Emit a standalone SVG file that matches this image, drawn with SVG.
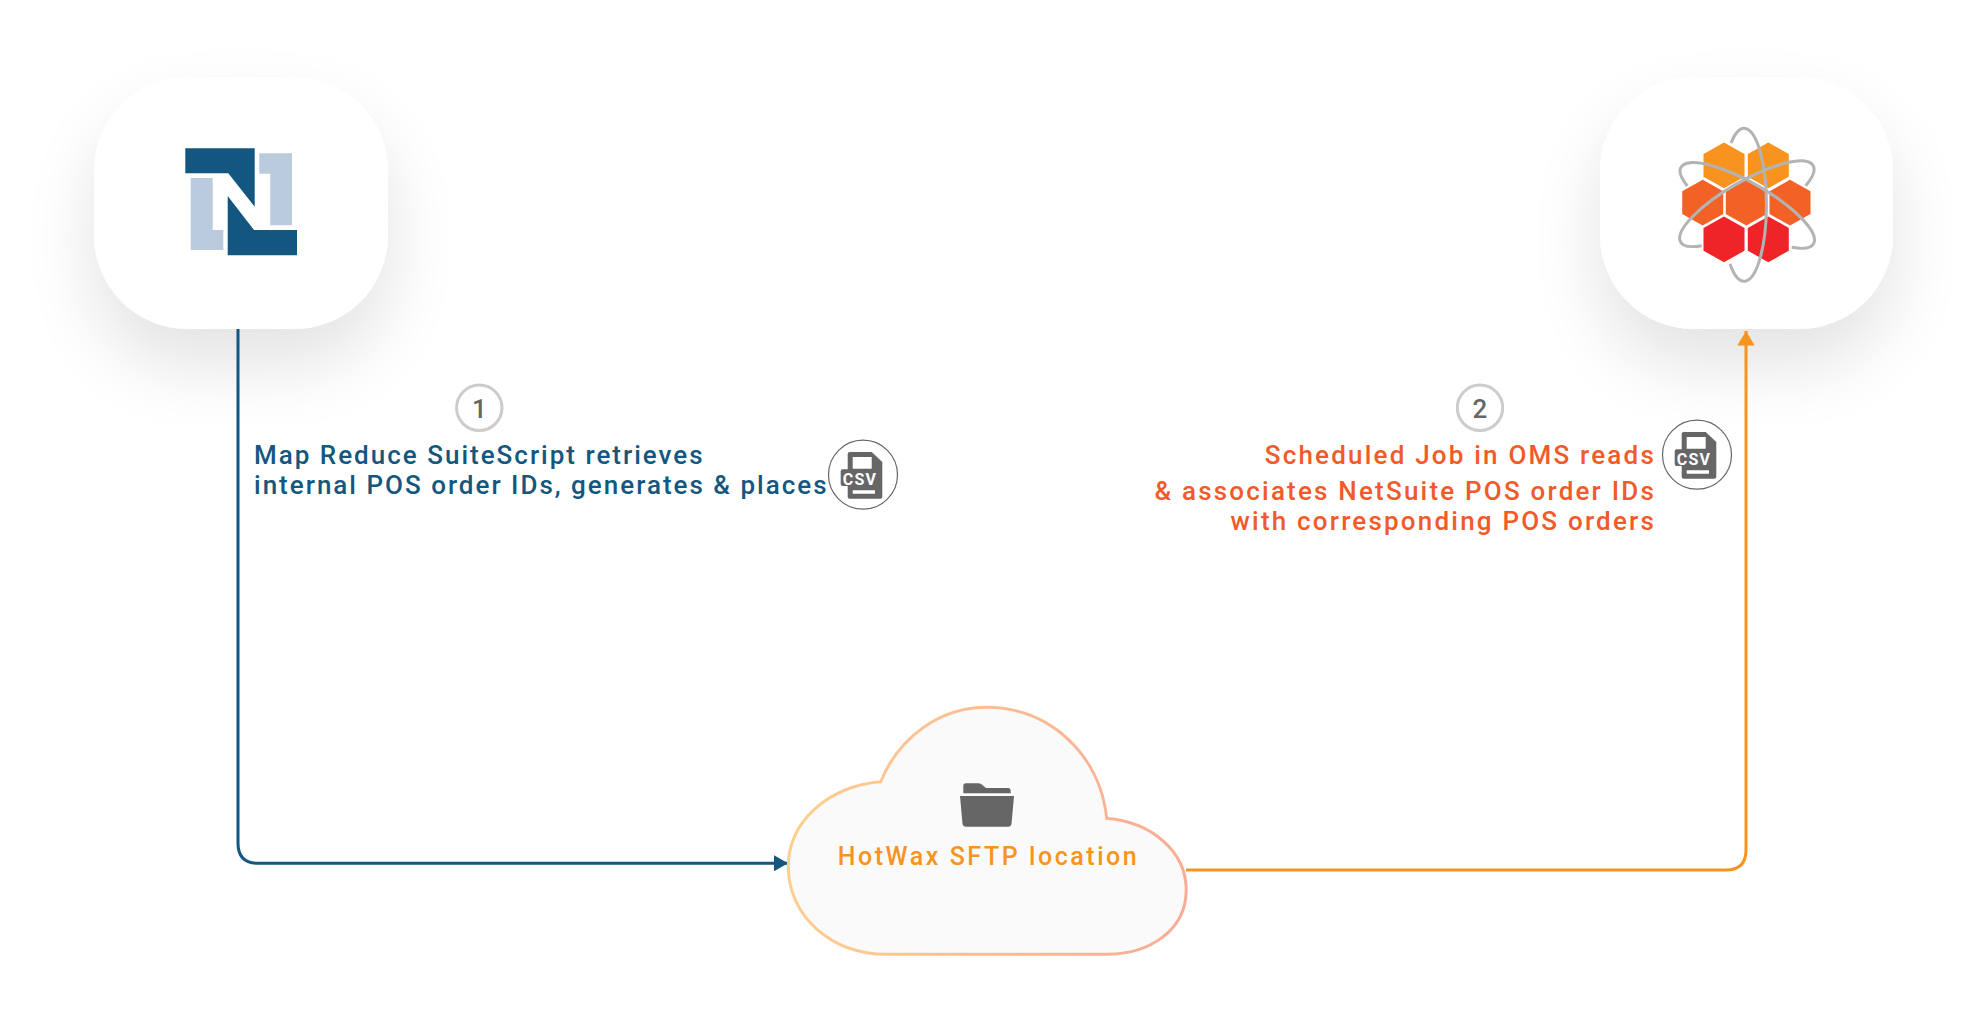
<svg xmlns="http://www.w3.org/2000/svg" xmlns:xlink="http://www.w3.org/1999/xlink" width="1987" height="1032" viewBox="0 0 1987 1032">
<style>
text{font-family:Roboto,"Liberation Sans",sans-serif}
.lbl{font-size:26px;letter-spacing:2px;font-weight:500}
.blue{fill:#135781}.red{fill:#F15A29;text-anchor:end;letter-spacing:2.2px}
.num{font-size:26px;fill:#666;text-anchor:middle;font-weight:500}
.numc{fill:#fff;stroke:#ccc;stroke-width:3}
.card{fill:#fff;filter:url(#sh)}
.csvt{font-size:16px;font-weight:700;fill:#fff;text-anchor:middle;letter-spacing:1.2px}
.orb{fill:none;stroke:#B3B3B3;stroke-width:3}
.conn{fill:none;stroke-width:3}
</style>
<defs>
<filter id="sh" x="-50%" y="-50%" width="200%" height="220%"><feGaussianBlur in="SourceAlpha" stdDeviation="36"/><feOffset dy="36"/><feComponentTransfer><feFuncA type="linear" slope="0.115"/></feComponentTransfer><feMerge><feMergeNode/><feMergeNode in="SourceGraphic"/></feMerge></filter>
<linearGradient id="cg" x1="0" x2="1" y1="0" y2="0"><stop offset="0" stop-color="#FFCE90"/><stop offset="1" stop-color="#F8AC96"/></linearGradient>
<marker id="ab" markerUnits="userSpaceOnUse" markerWidth="16" markerHeight="18" refX="14" refY="8" orient="auto"><path d="M0 0L14 8L0 16Z" fill="#135781"/></marker>
<marker id="ao" markerUnits="userSpaceOnUse" markerWidth="16" markerHeight="18" refX="14.5" refY="8.7" orient="auto"><path d="M0 0L14.500 8.700L0 17.400Z" fill="#F7941E"/></marker>
<g id="csvicon">
<path d="M-13.300 -22.700H8.700L19.300 -12.700V22Q19.300 24 17.300 24H-13.300Q-15.300 24 -15.300 22V-20.700Q-15.300 -22.700 -13.300 -22.700Z" fill="#666"/>
<path d="M-10.300 -17.700H8.700V-6H-10.300ZM-10.300 15.600H12V19H-10.300Z" fill="#fff"/>
<rect x="-22.300" y="-5.400" width="36.600" height="16.700" rx="2" fill="#666"/>
</g>
</defs>
<rect width="1987" height="1032" fill="#fff"/>
<g id="node-netsuite">
<rect class="card" x="94" y="77" width="294" height="252" rx="94"/>
<path d="M185.300 148.300H254.700V206.700L228.300 173.300H185.300Z" fill="#135781"/>
<path d="M227.700 196L254 230H297V255.300H227.700Z" fill="#135781"/>
<path d="M190.700 178H212.700V230H223.300V250H190.700Z" fill="#B9CBDC"/>
<path d="M259.300 153.300H292V225.300H270.300V173.700H259.300Z" fill="#B9CBDC"/>
</g>
<g id="node-hotwax">
<rect class="card" x="1600" y="77" width="293" height="252" rx="94"/>
<g id="hexes">
<path d="M1724 142.500L1744.500 154V176.800L1724 188.300L1703.500 176.800V154Z" fill="#F8931F"/>
<path d="M1768.300 142.500L1788.800 154V176.800L1768.300 188.300L1747.800 176.800V154Z" fill="#F8931F"/>
<path d="M1702.700 179.800L1723.200 191.300V214.100L1702.700 225.600L1682.200 214.100V191.300Z" fill="#F26227"/>
<path d="M1746.300 179.800L1766.800 191.300V214.100L1746.300 225.600L1725.800 214.100V191.300Z" fill="#F26227"/>
<path d="M1790 179.800L1810.500 191.300V214.100L1790 225.600L1769.500 214.100V191.300Z" fill="#F26227"/>
<path d="M1724 216.400L1744.500 227.900V250.700L1724 262.200L1703.500 250.700V227.900Z" fill="#EE2429"/>
<path d="M1768.300 216.400L1788.800 227.900V250.700L1768.300 262.200L1747.800 250.700V227.900Z" fill="#EE2429"/>
</g>
<path class="orb" d="M1731 143A22.300 76.500 0 1 1 1730 264"/>
<path class="orb" d="M1687.300 186A76.500 22.300 30 1 1 1791.700 247.300"/>
<path class="orb" d="M1805.700 185.700A76.500 22.300 -30 1 0 1701.700 245.700"/>
</g>
<g id="connectors">
<path class="conn" stroke="#135781" d="M238 329V843Q238 863.300 258 863.300H788" marker-end="url(#ab)"/>
<path class="conn" stroke="#F7941E" d="M1186 870H1726Q1746 870 1746 850V331" marker-end="url(#ao)"/>
</g>
<g id="node-cloud">
<path d="M880.700 781.700C899 737 940 707.300 986.700 707.300C1050 707.300 1100 755 1106.700 818.300C1150 822 1186.200 850 1186.200 890C1186.200 930 1150 954.300 1106.700 954.300H886.700C830 954.300 788.300 915 788.300 866.700C788.300 820 830 786 880.700 781.700Z" fill="#FAFAFA" stroke="url(#cg)" stroke-width="3"/>
<path d="M963.300 786Q963.300 783.300 966 783.300H978Q981 783.300 983 785.500L986 788H1008Q1010.700 788 1010.700 791V793.300H963.300Z" fill="#666"/>
<path d="M960 796H1014L1011.500 824Q1011 826.700 1008.500 826.700H965.500Q963 826.700 962.500 824Z" fill="#666"/>
<text x="988.500" y="864.800" text-anchor="middle" font-size="25" font-weight="500" letter-spacing="2.550" fill="#F7941E">HotWax SFTP location</text>
</g>
<g id="label-1">
<circle class="numc" cx="479.300" cy="407.800" r="22.700"/>
<text class="num" x="479.300" y="417.500">1</text>
<text class="lbl blue" x="254" y="464">Map Reduce SuiteScript retrieves</text>
<text class="lbl blue" x="254" y="494">internal POS order IDs, generates &amp; places</text>
</g>
<g id="csv-1">
<circle cx="863" cy="474.700" r="34.500" fill="#fff" stroke="#666" stroke-width="1.200"/>
<use xlink:href="#csvicon" href="#csvicon" x="863" y="474.700"/>
<text class="csvt" x="860" y="484.900">CSV</text>
</g>
<g id="label-2">
<circle class="numc" cx="1480" cy="407.800" r="22.700"/>
<text class="num" x="1480" y="417.500">2</text>
<text class="lbl red" x="1656" y="464">Scheduled Job in OMS reads</text>
<text class="lbl red" x="1656" y="500">&amp; associates NetSuite POS order IDs</text>
<text class="lbl red" x="1656" y="530">with corresponding POS orders</text>
</g>
<g id="csv-2">
<circle cx="1697" cy="454.700" r="34.500" fill="#fff" stroke="#666" stroke-width="1.200"/>
<use xlink:href="#csvicon" href="#csvicon" x="1697" y="454.700"/>
<text class="csvt" x="1694" y="464.900">CSV</text>
</g>
</svg>
